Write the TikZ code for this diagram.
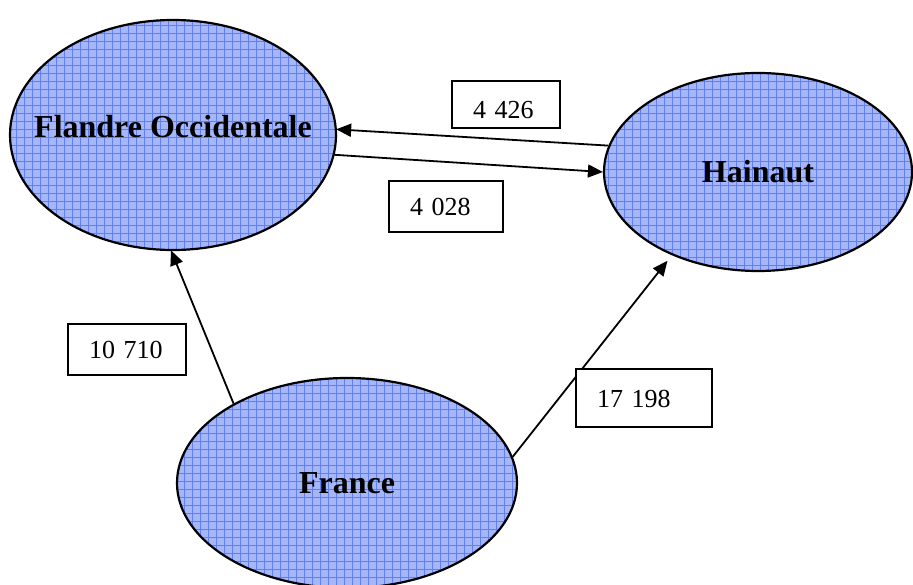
\documentclass[tikz,border=0pt]{standalone}
\usepackage{fontspec}
\setmainfont{Liberation Serif}
\usepackage{tikz}
\usetikzlibrary{arrows.meta, positioning, shapes.geometric, patterns.meta}

\definecolor{regfill}{RGB}{166,183,248}
\definecolor{reggrid}{RGB}{96,126,250}

\tikzset{
    region/.style={ellipse, draw, line width=2.2pt, inner sep=0pt,
        preaction={fill=regfill},
        pattern={Hatch[angle=0, distance=8pt, line width=0.7pt]}, pattern color=reggrid,
        font=\fontsize{32}{36}\selectfont\bfseries},
    numbox/.style={rectangle, draw, line width=1.4pt, fill=white, align=left,
        inner xsep=21pt, inner ysep=0pt, text height=18pt, text depth=0pt,
        font=\fontsize{26}{30}\selectfont},
    flow/.style={-{Triangle[length=15pt, width=13pt]}, line width=1.8pt}
}

\begin{document}
\begin{tikzpicture}[x=1pt, y=-1pt]
    \useasboundingbox (0,0) rectangle (913,585);

    \node (flandre) [region, minimum width=326pt, minimum height=230pt] at (173,135) {\makebox[0pt]{\raisebox{-3pt}[0pt][0pt]{Flandre Occidentale}}};
    \node (hainaut) [region, minimum width=308pt, minimum height=198pt] at (758,172) {\makebox[0pt]{Hainaut}};
    \node (france) [region, minimum width=340pt, minimum height=210pt] at (347,483) {\makebox[0pt]{France}};

    \draw[flow] (hainaut.170) -- (flandre.2.5);
    \draw[flow] (flandre.353.7) -- (hainaut.west);
    \draw[flow] (france.145) -- (flandre.269);
    \draw[flow, shorten >=7pt] (france.9) -- (hainaut.224);

    \node (n4426) [numbox, text width=66pt, minimum height=47pt, text height=28pt] at (506,104.5) {4 426};
    \node (n4028) [numbox, text width=72pt, minimum height=51pt] at (446,206.5) {4 028};
    \node (n10710) [numbox, text width=76pt, minimum height=51pt] at (127,349.5) {10 710};
    \node (n17198) [numbox, text width=94pt, minimum height=58pt] at (644,398) {17 198};

\end{tikzpicture}
\end{document}
